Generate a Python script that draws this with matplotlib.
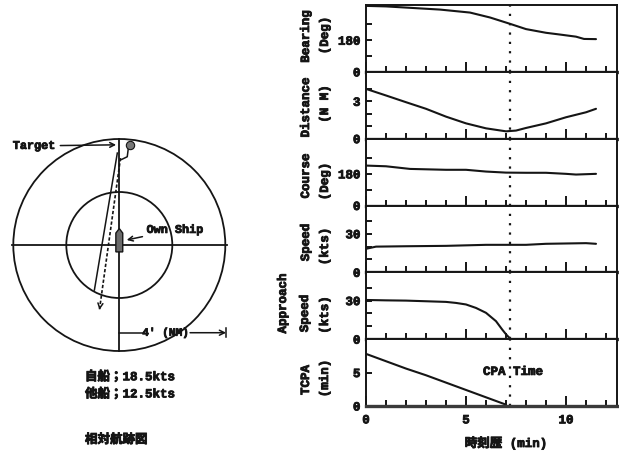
import matplotlib
matplotlib.use("Agg")
import matplotlib.pyplot as plt
import matplotlib.patheffects as pe
from matplotlib.patches import Circle, Polygon
from matplotlib.ticker import FixedLocator, MultipleLocator

plt.rcParams["font.family"] = ["Liberation Mono", "Noto Sans CJK JP"]
plt.rcParams["font.weight"] = "bold"
plt.rcParams["font.size"] = 9

INK = "#151515"
W, H = 619, 453
# heavier print-style lettering
HEAVY = [pe.withStroke(linewidth=0.6, foreground=INK)]

# time series (minutes)
t_bearing = [0, 1, 2.2, 3.7, 5.2, 6.2, 7.2, 8.0, 9.0, 9.7, 10.5, 10.9, 11.5]
bearing = [375, 372, 364, 354, 337, 309, 273, 243, 222, 212, 200, 187, 186]

t_distance = [0, 1, 2, 3, 4, 5, 6, 7, 7.5, 8, 9, 10, 11, 11.5]
distance = [4.0, 3.47, 2.93, 2.4, 1.77, 1.23, 0.83, 0.59, 0.65, 0.86, 1.23, 1.72, 2.12, 2.4]

t_course = [0, 1, 2.2, 4, 5, 6, 7, 8, 9, 10, 10.5, 11.5]
course = [227, 223, 208, 203, 203, 193, 187, 186, 186, 180, 176, 180]

t_speed = [0, 0.5, 2, 4, 6, 8, 9, 11, 11.5]
speed = [18.3, 20.0, 20.3, 20.6, 21.4, 21.4, 22.2, 22.7, 22.2]

t_approach = [0, 1, 2, 3, 4, 4.5, 5, 5.5, 6, 6.5, 6.8, 7.0, 7.2]
approach = [30.5, 30.2, 30.0, 29.5, 29.0, 28.2, 27.0, 24.3, 20.5, 14.0, 7.7, 3.8, 0.5]

t_tcpa = [0, 1, 2, 3, 4, 5, 6, 7.0]
tcpa = [7.8, 6.7, 5.6, 4.6, 3.5, 2.4, 1.3, 0.2]

cpa_time = 7.2

panels = [
    (t_bearing, bearing, (0, 380), [90, 180, 270], {0: "0", 180: "180"}),
    (t_distance, distance, (0, 5.37), [1, 2, 3, 4], {0: "0", 3: "3"}),
    (t_course, course, (0, 380), [90, 180, 270], {0: "0", 180: "180"}),
    (t_speed, speed, (0, 52), [10, 20, 30, 40], {0: "0", 30: "30"}),
    (t_approach, approach, (0, 52), [10, 20, 30, 40], {0: "0", 30: "30"}),
    (t_tcpa, tcpa, (0, 10), [5], {0: "0", 5: "5"}),
]

# rotated axis titles: (text, x px, y px)
ylabels = [
    ("Bearing", 306, 36.5), ("(Deg)", 325, 35.5),
    ("Distance", 306, 107.5), ("(N M)", 325, 104),
    ("Course", 306, 176), ("(Deg)", 325, 181.5),
    ("Speed", 306, 242.5), ("(kts)", 325, 246.5),
    ("Approach", 283, 303.5), ("Speed", 305, 313.5), ("(kts)", 325, 315),
    ("TCPA", 306, 380), ("(min)", 325, 378.5),
]


def fx(x):
    return x / W


def fy(y):
    return 1 - y / H


fig = plt.figure(figsize=(W / 100, H / 100), dpi=100)

# ---- time history panels ----
top, bottom = 5, 406
ph = (bottom - top) / len(panels)
x0, x1 = 366, 617
axes = []
for i, (tx, ty, ylim, yticks, ylab) in enumerate(panels):
    yb = top + ph * (i + 1)
    ax = fig.add_axes([fx(x0), fy(yb), fx(x1 - x0), ph / H])
    ax.plot(tx, ty, color=INK, lw=1.5, solid_capstyle="round")
    ax.set_xlim(0, 12.55)
    ax.set_ylim(*ylim)
    ax.axvline(cpa_time, color=INK, lw=1.6, ls=(0, (1, 3.2)))

    ax.xaxis.set_major_locator(FixedLocator([0, 5, 10]))
    ax.xaxis.set_minor_locator(MultipleLocator(1))
    ax.tick_params(axis="x", which="major", direction="in", length=7, width=1.4, colors=INK)
    ax.tick_params(axis="x", which="minor", direction="in", length=4, width=1.4, colors=INK)
    ax.tick_params(axis="y", which="major", direction="in", length=4, width=1.4,
                   colors=INK, pad=4, labelsize=9)
    ticks = sorted(set(yticks) | set(ylab))
    ax.set_yticks(ticks)
    ax.set_yticklabels([ylab.get(v, "") for v in ticks])
    if i < len(panels) - 1:
        ax.tick_params(axis="x", labelbottom=False)
    else:
        ax.tick_params(axis="x", labelsize=9, pad=6)
    for lbl in ax.get_xticklabels() + ax.get_yticklabels():
        lbl.set_path_effects(HEAVY)

    for side in ("left", "right", "top"):
        ax.spines[side].set_linewidth(1.4)
        ax.spines[side].set_color(INK)
    ax.spines["bottom"].set_linewidth(2.4)
    ax.spines["bottom"].set_color("#3a3a3a")
    axes.append(ax)

axes[-1].text(cpa_time + 0.15, 5.1, "CPA Time", ha="center", va="center",
              fontsize=9, color=INK, path_effects=HEAVY)
fig.text(fx(506), fy(443), "時刻歴 (min)", ha="center", va="center",
         fontsize=9, color=INK, path_effects=HEAVY)

for s, x, y in ylabels:
    fig.text(fx(x), fy(y), s, rotation=90, ha="center", va="center",
             fontsize=9, color=INK, path_effects=HEAVY)

# ---- relative track plot (NM) ----
pxnm = 26.5
cx, cy = 119.3, 245
lx0, lx1, ly0, ly1 = 0, 240, 110, 360
pax = fig.add_axes([fx(lx0), fy(ly1), fx(lx1 - lx0), (ly1 - ly0) / H])
pax.set_xlim((lx0 - cx) / pxnm, (lx1 - cx) / pxnm)
pax.set_ylim((cy - ly1) / pxnm, (cy - ly0) / pxnm)
pax.axis("off")

ring_radii = [2, 4]
for r in ring_radii:
    pax.add_patch(Circle((0, 0), r, fill=False, ec=INK, lw=1.3))
pax.plot([-4.05, 4.05], [0, 0], color=INK, lw=1.3)
pax.plot([0, 0], [-4, 4], color=INK, lw=1.3)

# own ship outline
ship = [(-0.13, -0.26), (0.13, -0.26), (0.13, 0.45), (0, 0.62), (-0.13, 0.45)]
pax.add_patch(Polygon(ship, closed=True, fc="#6a6a6a", ec=INK, lw=1.0, zorder=3))

# target and its track
target = (0.40, 3.77)
hook_x = [0.34, 0.30, 0.05]
hook_y = [3.65, 3.33, 3.21]
track1_x = [-0.075, -0.94]
track1_y = [3.47, -1.70]
track2_x = [0.045, -0.75]
track2_y = [3.28, -2.45]
pax.plot(hook_x, hook_y, color=INK, lw=1.1)
pax.plot(track1_x, track1_y, color=INK, lw=1.1)
pax.plot(track2_x, track2_y, color=INK, lw=1.2, ls=(0, (2, 1.2)))
pax.annotate("", xy=(track2_x[1], track2_y[1]),
             xytext=(track2_x[1] + 0.03, track2_y[1] + 0.2),
             arrowprops=dict(arrowstyle="->", color=INK, lw=1.1))
pax.plot(*target, "o", ms=6, mfc="#777777", mec=INK, mew=0.8, zorder=3)

pax.annotate("Target", xy=(-0.12, 3.78), xytext=(-4.02, 3.74),
             ha="left", va="center", fontsize=8.5, color=INK, path_effects=HEAVY,
             arrowprops=dict(arrowstyle="->", color=INK, lw=1.1, shrinkA=2, shrinkB=0))
pax.annotate("Own Ship", xy=(0.28, 0.19), xytext=(1.03, 0.57),
             ha="left", va="center", fontsize=8.5, color=INK, path_effects=HEAVY,
             arrowprops=dict(arrowstyle="->", color=INK, lw=1.1, shrinkA=1, shrinkB=0))

# range scale
sy = -3.31
pax.plot([0, 0.85], [sy, sy], color=INK, lw=1.1)
pax.text(1.74, sy, "4' (NM)", ha="center", va="center", fontsize=8, color=INK,
         path_effects=HEAVY)
pax.annotate("", xy=(4.03, sy), xytext=(2.67, sy),
             arrowprops=dict(arrowstyle="->", color=INK, lw=1.1, shrinkA=0, shrinkB=0))
pax.plot([4.03, 4.03], [sy - 0.17, sy + 0.17], color=INK, lw=1.1)

fig.text(fx(85), fy(377), "自船；18.5kts", ha="left", va="center", fontsize=9,
         color=INK, path_effects=HEAVY)
fig.text(fx(85), fy(394), "他船；12.5kts", ha="left", va="center", fontsize=9,
         color=INK, path_effects=HEAVY)
fig.text(fx(85), fy(440), "相対航跡図", ha="left", va="center", fontsize=9,
         color=INK, path_effects=HEAVY)

fig.savefig("out.png", dpi=100)
